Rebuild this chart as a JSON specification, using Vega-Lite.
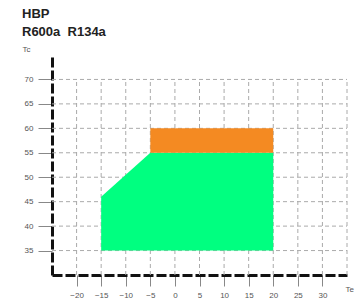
{
  "$schema": "https://vega.github.io/schema/vega-lite/v6.json",
  "width": 295,
  "height": 220,
  "autosize": "none",
  "padding": {"left": 52, "top": 55, "right": 13, "bottom": 28},
  "background": "white",
  "title": {
    "text": ["HBP", "R600a\u00a0\u00a0R134a"],
    "anchor": "start",
    "frame": "group",
    "font": "Liberation Sans",
    "fontSize": 13,
    "fontWeight": "bold",
    "color": "#222",
    "lineHeight": 18,
    "dx": -30,
    "offset": 6
  },
  "config": {
    "view": {"stroke": null},
    "axis": {"labelFont": "Liberation Sans", "titleFont": "Liberation Sans", "labelColor": "#555", "titleColor": "#555", "labelFontSize": 8, "titleFontSize": 8, "titleFontWeight": "normal", "labelOverlap": false, "labelFlush": false, "grid": false, "domainColor": "#111", "domainWidth": 3, "domainDash": [10, 3], "tickColor": "#888", "tickWidth": 1, "labelPadding": 5, "titleAngle": 0},
    "axisX": {"values": [-20, -15, -10, -5, 0, 5, 10, 15, 20, 25, 30], "tickSize": 11, "titleX": 293, "titleY": 16, "titleAlign": "left", "titleBaseline": "alphabetic"},
    "axisY": {"values": [35, 40, 45, 50, 55, 60, 65, 70], "tickSize": 14, "titleX": -30, "titleY": -2, "titleAlign": "left", "titleBaseline": "bottom"}
  },
  "datasets": {
    "vgrid": [{"x": -20}, {"x": -15}, {"x": -10}, {"x": -5}, {"x": 0}, {"x": 5}, {"x": 10}, {"x": 15}, {"x": 20}, {"x": 25}, {"x": 30}, {"x": 35}],
    "hgrid": [{"y": 35}, {"y": 40}, {"y": 45}, {"y": 50}, {"y": 55}, {"y": 60}, {"y": 65}, {"y": 70}],
    "green": [{"x": -15, "y": 46, "y2": 35}, {"x": -5, "y": 55, "y2": 35}, {"x": 20, "y": 55, "y2": 35}],
    "orange": [{"x1": -5, "x2": 20, "y1": 55, "y2": 60}]
  },
  "layer": [
    {
      "data": {"name": "vgrid"},
      "mark": {"type": "rule", "color": "#aaaaaa", "strokeWidth": 1, "strokeDash": [4, 3]},
      "encoding": {
        "x": {"field": "x", "type": "quantitative", "scale": {"domain": [-25, 35], "nice": false, "zero": false}, "axis": {"title": "Te", "values": [-20, -15, -10, -5, 0, 5, 10, 15, 20, 25, 30]}},
        "y": {"datum": 30, "type": "quantitative", "scale": {"domain": [30, 75], "nice": false, "zero": false}, "axis": {"title": "Tc", "values": [35, 40, 45, 50, 55, 60, 65, 70]}},
        "y2": {"datum": 70}
      }
    },
    {
      "data": {"name": "hgrid"},
      "mark": {"type": "rule", "color": "#aaaaaa", "strokeWidth": 1, "strokeDash": [4, 3]},
      "encoding": {
        "y": {"field": "y", "type": "quantitative", "axis": {"title": "Tc", "values": [35, 40, 45, 50, 55, 60, 65, 70]}},
        "x": {"datum": -25, "type": "quantitative", "axis": {"title": "Te", "values": [-20, -15, -10, -5, 0, 5, 10, 15, 20, 25, 30]}},
        "x2": {"datum": 35}
      }
    },
    {
      "data": {"name": "green"},
      "mark": {"type": "area", "color": "#00ff80", "opacity": 1},
      "encoding": {
        "x": {"field": "x", "type": "quantitative", "axis": {"title": "Te", "values": [-20, -15, -10, -5, 0, 5, 10, 15, 20, 25, 30]}},
        "y": {"field": "y", "type": "quantitative", "axis": {"title": "Tc", "values": [35, 40, 45, 50, 55, 60, 65, 70]}},
        "y2": {"field": "y2"}
      }
    },
    {
      "data": {"name": "orange"},
      "mark": {"type": "rect", "color": "#f48a22", "opacity": 1},
      "encoding": {
        "x": {"field": "x1", "type": "quantitative", "axis": {"title": "Te", "values": [-20, -15, -10, -5, 0, 5, 10, 15, 20, 25, 30]}},
        "x2": {"field": "x2"},
        "y": {"field": "y1", "type": "quantitative", "axis": {"title": "Tc", "values": [35, 40, 45, 50, 55, 60, 65, 70]}},
        "y2": {"field": "y2"}
      }
    }
  ]
}
